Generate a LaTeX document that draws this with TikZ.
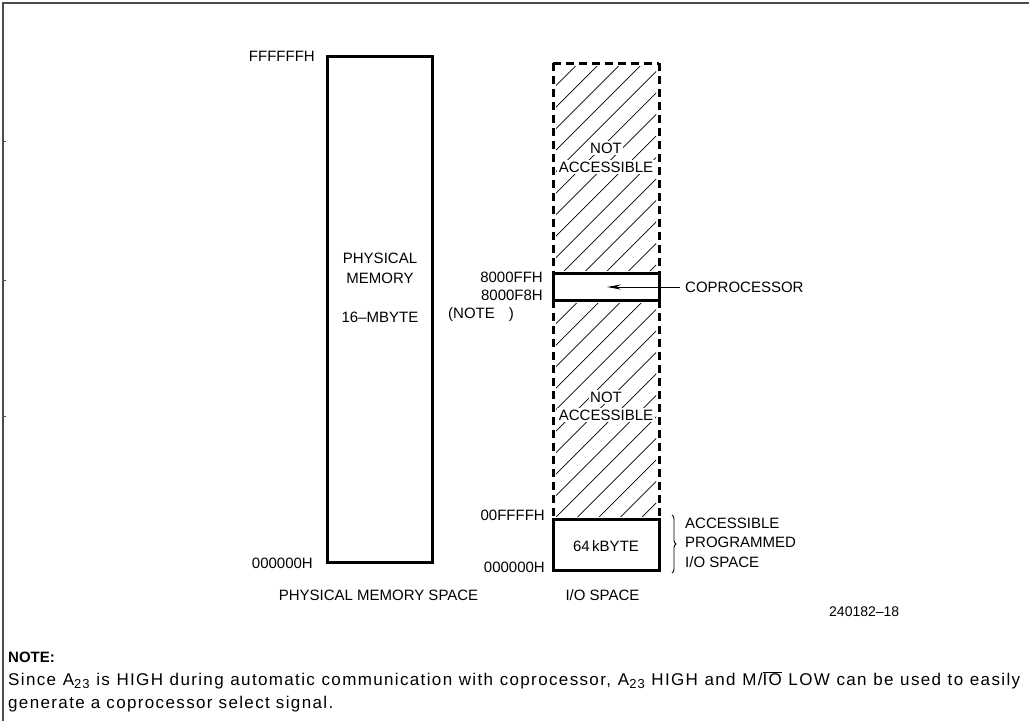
\documentclass[tikz,border=0pt]{standalone}
\usepackage{fontspec}
\setmainfont{Liberation Sans}
\newfontfamily\notefont[LetterSpace=8]{Liberation Sans}
\newfontfamily\noteheadfont{Liberation Sans}
\usetikzlibrary{decorations.pathreplacing,arrows.meta}
\begin{document}
\begin{tikzpicture}[x=1pt,y=-1pt,
  lbl/.style={font=\fontsize{15}{18}\selectfont, inner sep=0pt},
  solidbox/.style={draw, line width=3pt, inner sep=0pt},
  dashside/.style={line width=3pt, dash pattern=on 8pt off 5pt},
  hatchline/.style={line width=0.7pt},
  hatchtext/.style={lbl, fill=white, inner sep=1.5pt, align=center},
  notetext/.style={font=\notefont\fontsize{17}{19}\selectfont, inner sep=0pt, anchor=west}]
\useasboundingbox (0,0) rectangle (1029,721);
% frame
\draw[line width=1.5pt, black!70] (3,721) -- (3,3) -- (1029,3);
\foreach \t in {141,280,416} \draw[black!70, line width=0.8pt] (3,\t) -- (6,\t);

% physical memory box
\node[solidbox, minimum width=105pt, minimum height=506pt] (phys) at (379.5,309) {};
\node[lbl] (physa) at (380,258) {PHYSICAL};
\node[lbl] (physb) at (380,278) {MEMORY};
\node[lbl] (physc) at (380,317) {16–MBYTE};
\node[lbl, anchor=east] (ftop) at (315,56) {FFFFFFH};
\node[lbl, anchor=east] (fbot) at (313,563) {000000H};
\node[lbl] (pms) at (378.5,595) {PHYSICAL MEMORY SPACE};

% I/O space column
\coordinate (utl) at (553,63);
\coordinate (utr) at (659,63);
\coordinate (ubl) at (553,273);
\coordinate (ubr) at (659,273);
\coordinate (ltl) at (553,300);
\coordinate (ltr) at (659,300);
\coordinate (lbl) at (553,519);
\coordinate (lbr) at (659,519);

\begin{scope}
  \clip (556,66) rectangle (656,270);
  \foreach \c in {620,641.5,...,940} \draw[hatchline] (\c,0) -- ++(-700,700);
\end{scope}
\begin{scope}
  \clip (556,303) rectangle (656,516);
  \foreach \c in {858,879.5,...,1180} \draw[hatchline] (\c,0) -- ++(-700,700);
\end{scope}

\draw[dashside] (utl) -- (utr);
\draw[dashside] (utl) -- (ubl);
\draw[dashside] (utr) -- (ubr);
\draw[dashside] (ltl) -- (lbl);
\draw[dashside] (ltr) -- (lbr);

\node[hatchtext] (na1) at (606,148) {NOT};
\node[hatchtext] (na2) at (606,167) {ACCESSIBLE};
\node[hatchtext] (nb1) at (606,397) {NOT};
\node[hatchtext] (nb2) at (606,415) {ACCESSIBLE};

\node[solidbox, minimum width=106pt, minimum height=27pt] (cop) at (606,286.5) {};
\node[solidbox, minimum width=106pt, minimum height=51pt] (kb) at (606,544.5) {};
\node[lbl] (kbt) at (606,546) {64\,kBYTE};

\node[lbl, anchor=east] (a1) at (543,277) {8000FFH};
\node[lbl, anchor=east] (a2) at (543,295) {8000F8H};
\node[lbl, anchor=west] (nt) at (448,315) {(NOTE\hspace{14pt})};
\node[lbl, anchor=east] (a3) at (545,515) {00FFFFH};
\node[lbl, anchor=east] (a4) at (545,567) {000000H};

\node[lbl, anchor=west] (copl) at (685,287) {COPROCESSOR};
\coordinate (arrtip) at (607,287);
\draw[line width=1pt, -{Stealth[length=14pt,width=5pt]}] (copl.west) ++(-5,0) -- (arrtip);

\draw[line width=0.9pt, decorate, decoration={brace, amplitude=4pt}] (672,515) -- (672,573);
\node[lbl, anchor=west] (acc1) at (685,523) {ACCESSIBLE};
\node[lbl, anchor=west] (acc2) at (685,542) {PROGRAMMED};
\node[lbl, anchor=west] (acc3) at (685,562) {I/O SPACE};

\node[lbl] (ios) at (602.5,595) {I/O SPACE};
\node[lbl, font=\fontsize{14}{16}\selectfont, anchor=west] (fig) at (829,612) {240182–18};

% note
\node[inner sep=0pt, anchor=west, font=\noteheadfont\bfseries\fontsize{15}{18}\selectfont] (nh) at (8,657) {NOTE:};
\node[notetext] (n1) at (8,680) {\makebox[1012pt][s]{Since A\raisebox{-0.35ex}{\fontsize{13}{13}\selectfont 23} is HIGH during automatic communication with coprocessor, A\raisebox{-0.35ex}{\fontsize{13}{13}\selectfont 23} HIGH and M/$\overline{\mbox{IO}}$ LOW can be used to easily}};
\node[notetext] (n2) at (8,704) {generate a coprocessor select signal.};
\end{tikzpicture}
\end{document}
